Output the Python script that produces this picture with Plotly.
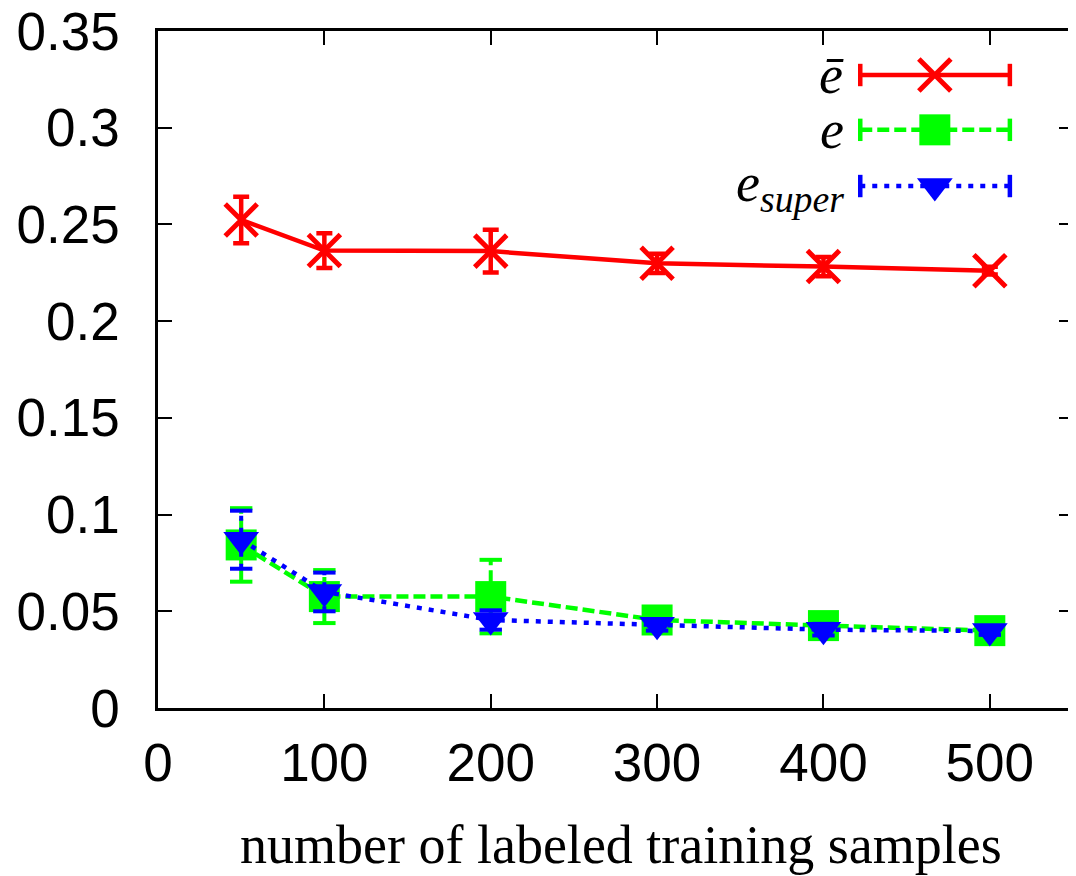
import plotly.graph_objects as go

# ---- data ----
samples = [50, 100, 200, 300, 400, 500]
e_bar = [0.2523, 0.2365, 0.2362, 0.2299, 0.2282, 0.2261]
e_bar_err = [0.012, 0.009, 0.011, 0.005, 0.005, 0.002]
e_val = [0.0843, 0.0576, 0.0576, 0.0455, 0.0426, 0.0400]
e_val_err = [0.019, 0.0137, 0.019, 0.004, 0.003, 0.002]
e_super = [0.0870, 0.0600, 0.0455, 0.0430, 0.0405, 0.0398]
e_super_err = [0.015, 0.010, 0.005, 0.003, 0.003, 0.002]

x_ticks = [0, 100, 200, 300, 400, 500]
y_ticks = [0, 0.05, 0.1, 0.15, 0.2, 0.25, 0.3, 0.35]
y_ticktext = ["0", "0.05", "0.1", "0.15", "0.2", "0.25", "0.3", "0.35"]
x_title = "number of labeled training samples"

RED, GREEN, BLUE = "#ff0000", "#00ff00", "#0000ff"
GREEN_DASH = "12px,5px"
BLUE_DOT = "5px,7px"

fig = go.Figure()


def err_segments(xs, ys, errs):
    """vertical error-bar segments (x, y lists with gaps) and cap end points"""
    sx, sy, cx, cy = [], [], [], []
    for x, y, e in zip(xs, ys, errs):
        sx += [x, x, None]
        sy += [y - e, y + e, None]
        cx += [x, x]
        cy += [y - e, y + e]
    return sx, sy, cx, cy


# red: solid line, x markers, solid error bars
fig.add_trace(go.Scatter(
    x=samples, y=e_bar, mode="lines+markers",
    line=dict(color=RED, width=4.5),
    marker=dict(symbol="x-thin", size=32, color=RED, opacity=1,
                line=dict(color=RED, width=5)),
    error_y=dict(type="data", array=e_bar_err, color=RED, thickness=4.5, width=8),
    showlegend=False,
))

# green & blue: error bars drawn in the line's own dash style
for ys, errs, col, dash, sym, sz in [
    (e_val, e_val_err, GREEN, GREEN_DASH, "square", 31),
    (e_super, e_super_err, BLUE, BLUE_DOT, "triangle-down", 31),
]:
    sx, sy, cx, cy = err_segments(samples, ys, errs)
    fig.add_trace(go.Scatter(
        x=sx, y=sy, mode="lines", line=dict(color=col, width=4, dash=dash),
        showlegend=False, hoverinfo="skip"))
    fig.add_trace(go.Scatter(
        x=cx, y=cy, mode="markers",
        marker=dict(symbol="line-ew", size=16, line=dict(color=col, width=4)),
        showlegend=False, hoverinfo="skip"))
    fig.add_trace(go.Scatter(
        x=samples, y=ys, mode="lines+markers",
        line=dict(color=col, width=4.5, dash=dash),
        marker=dict(symbol=sym, size=sz, color=col, opacity=1, line=dict(width=0)),
        showlegend=False,
    ))

# ---- gnuplot-style key (sample lines drawn on an invisible overlay axis) ----
key_rows = [0.935, 0.854, 0.771]
key_x = [0.7675, 0.849, 0.931]
key_labels = ["<i>ē</i>", "<i>e</i>", "<i>e<sub>super</sub></i>"]
key_styles = [
    (RED, "solid", "x-thin", 32),
    (GREEN, GREEN_DASH, "square", 31),
    (BLUE, BLUE_DOT, "triangle-down", 31),
]
for ry, lab, (col, dash, sym, sz) in zip(key_rows, key_labels, key_styles):
    fig.add_trace(go.Scatter(
        x=key_x, y=[ry] * 3, xaxis="x2", yaxis="y2", mode="lines+markers",
        line=dict(color=col, width=4.5, dash=dash),
        marker=dict(symbol=["line-ns", sym, "line-ns"], size=[16, sz, 16], color=col,
                    opacity=1,
                    line=dict(color=col, width=[4.5, 5 if sym == "x-thin" else 0, 4.5])),
        showlegend=False, hoverinfo="skip",
    ))
    fig.add_annotation(x=0.752, y=ry, xref="paper", yref="paper", text=lab,
                       showarrow=False, xanchor="right", yanchor="middle",
                       font=dict(family="Liberation Serif", size=54, color="black"))

# x-axis title
fig.add_annotation(x=0.506, y=-0.2025, xref="paper", yref="paper", text=x_title,
                   showarrow=False, xanchor="center", yanchor="middle",
                   font=dict(family="Liberation Serif", size=54, color="black"))

axis_common = dict(showline=True, linecolor="black", linewidth=2.5, mirror="ticks",
                   ticks="inside", ticklen=14, tickwidth=1.5, tickcolor="black",
                   showgrid=False, zeroline=False, automargin=False,
                   ticklabeloverflow="allow",
                   tickfont=dict(family="Liberation Sans", size=53, color="black"))

# the page body adds an 8px offset, so the figure is 8px smaller on each axis
fig.update_layout(
    width=1068, height=868,
    margin=dict(l=150, r=3, t=23, b=168),
    plot_bgcolor="white", paper_bgcolor="white",
    xaxis=dict(range=[0, 550], tickvals=x_ticks, ticktext=[str(v) for v in x_ticks],
               ticklabelstandoff=7, **axis_common),
    yaxis=dict(range=[0, 0.35], tickvals=y_ticks, ticktext=y_ticktext,
               ticklabelstandoff=25, **axis_common),
    xaxis2=dict(overlaying="x", range=[0, 1], visible=False),
    yaxis2=dict(overlaying="y", range=[0, 1], visible=False),
)

fig.write_html("out.html")
